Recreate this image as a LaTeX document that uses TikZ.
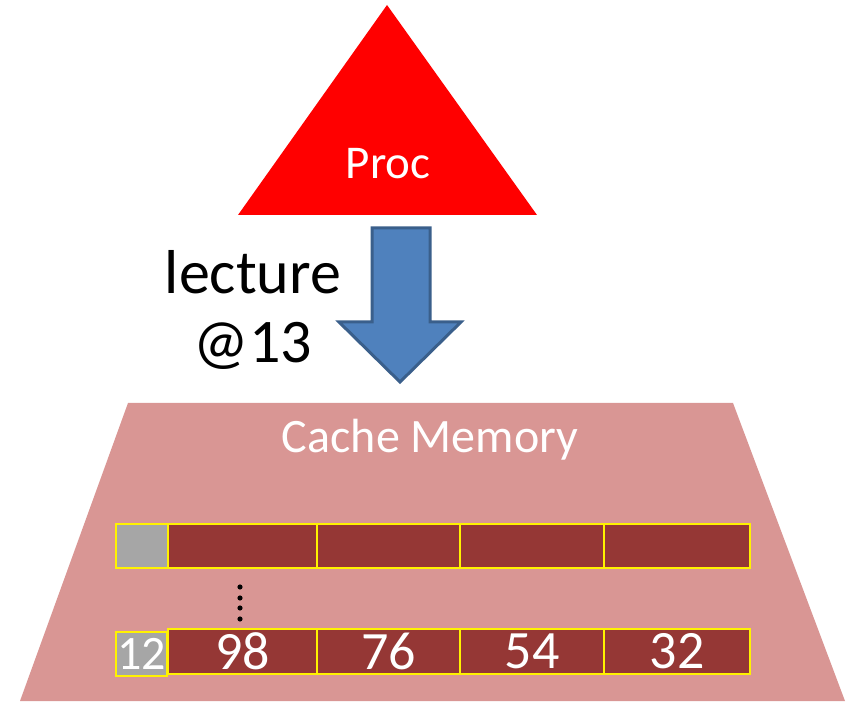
\documentclass[tikz,border=0pt]{standalone}
\usepackage{fontspec}
\setmainfont{Carlito}
\definecolor{procred}{HTML}{FF0000}
\definecolor{cachepink}{HTML}{D99694}
\definecolor{linered}{HTML}{953735}
\definecolor{taggray}{HTML}{A6A6A6}
\definecolor{arrowblue}{HTML}{4F81BD}
\definecolor{arrowline}{HTML}{3A5F8B}
\tikzset{
  linecell/.style={draw=yellow, line width=2.4pt, fill=linered, inner sep=0pt,
    text=white, font=\fontsize{54}{54}\selectfont},
  tagcell/.style={linecell, fill=taggray},
  bigtext/.style={font=\fontsize{62}{62}\selectfont, inner sep=0pt}
}
\begin{document}
\begin{tikzpicture}[x=1pt,y=-1pt]
  \useasboundingbox (0,0) rectangle (847,703);

  % processor
  \fill[procred] (387,5) -- (537,215) -- (238,215) -- cycle;
  \node[text=white, font=\fontsize{47}{47}\selectfont] (proc) at (388,164) {Proc};

  % read request
  \filldraw[fill=arrowblue, draw=arrowline, line width=3pt, line join=miter]
    (372,228) -- (430,228) -- (430,322) -- (461,322) -- (400,382)
    -- (339,322) -- (372,322) -- cycle;
  \node[bigtext] (req) at (253,272) {lecture};
  \node[bigtext] (addr) at (253,346) {@13};

  % cache
  \fill[cachepink] (128,403) -- (733,403) -- (845,701) -- (20,701) -- cycle;
  \node[text=white, font=\fontsize{48}{48}\selectfont] (cache) at (430,440) {Cache Memory};

  \node[tagcell, minimum width=52pt, minimum height=44pt] (tag1) at (142,546) {};
  \node[linecell, minimum width=149pt, minimum height=44pt] (w11) at (242.5,546) {};
  \node[linecell, minimum width=143pt, minimum height=44pt] (w12) at (388.5,546) {};
  \node[linecell, minimum width=144pt, minimum height=44pt] (w13) at (532,546) {};
  \node[linecell, minimum width=146pt, minimum height=44pt] (w14) at (677,546) {};

  \foreach \y in {587,598,608,619}
    \fill (240,\y) circle (2.6);

  \node[tagcell, minimum width=51pt, minimum height=44pt,
    font=\fontsize{48}{48}\selectfont] (tag2) at (141.5,654) {12};
  \node[linecell, minimum width=149pt, minimum height=45pt] (w21) at (242.5,651.5) {98};
  \node[linecell, minimum width=143pt, minimum height=45pt] (w22) at (388.5,651.5) {76};
  \node[linecell, minimum width=144pt, minimum height=45pt] (w23) at (532,651.5) {54};
  \node[linecell, minimum width=146pt, minimum height=45pt] (w24) at (677,651.5) {32};
\end{tikzpicture}
\end{document}
